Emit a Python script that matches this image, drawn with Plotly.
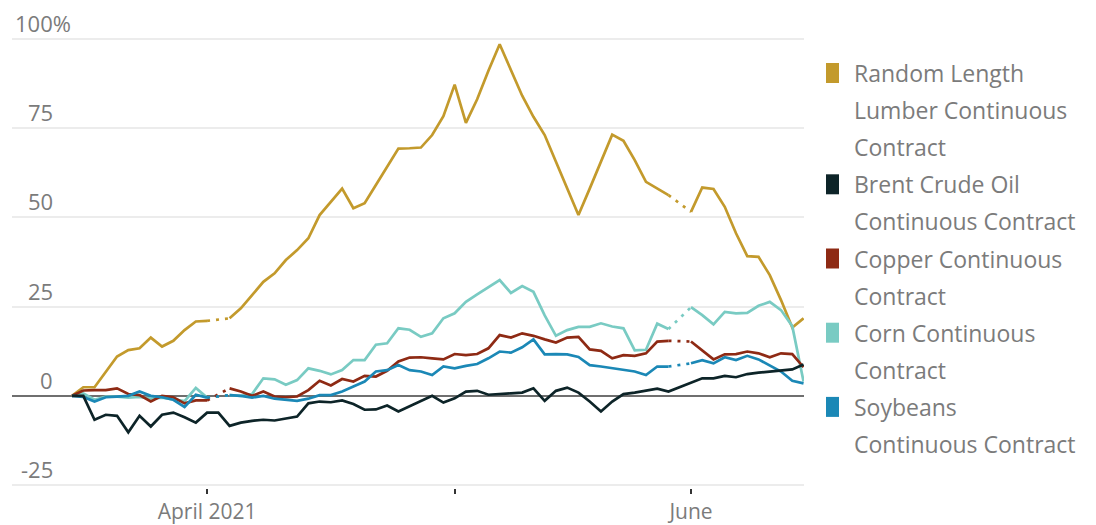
import pandas as pd
import plotly.graph_objects as go

# ---------------- data ----------------
dates = pd.bdate_range("2021-03-16", "2021-06-15")  # weekdays, 66 sessions

lumber = [0, 2.4, 2.4, 6.8, 11, 12.8, 13.3, 16.3, 13.8, 15.4, 18.4, 20.8,
          21.0, None, 21.7, 24.5, 28.2, 31.9, 34.3, 38, 40.8, 44.1, 50.6, 54.3,
          58, 52.5, 53.9, 59, 64, 69.2, 69.3, 69.5, 73, 78.3,
          87.1, 76.4, 83, 91, 98.4, 91, 84, 78.1, 73, 65.5, 58, 50.6, 58, 65.5,
          73.1, 71.4, 66, 59.9, 58, 56.2, None,
          51.5, 58.3, 57.9, 52.9, 45.5, 39.1, 38.9, 33.8, 26.8, 19.1, 21.7]

brent = [0, 0, -6.7, -5.3, -5.6, -10.2, -5.6, -8.6, -5.3, -4.7, -6, -7.5,
         -4.7, -4.7, -8.4, -7.5, -7, -6.7, -6.9, -6.3, -5.8, -2.1, -1.6, -1.8,
         -1.3, -2.3, -3.9, -3.8, -2.7, -4.4, -3, -1.6, 0, -1.9,
         -0.7, 1.2, 1.4, 0.3, 0.4, 0.7, 0.9, 2.1, -1.4, 1.4, 2.3, 0.9, -1.6, -4.4,
         -1.6, 0.5, 0.9, 1.5, 2, 1.2, 2.4,
         3.7, 4.9, 4.9, 5.6, 5.2, 6.1, 6.5, 6.8, 7.2, 7.4, 8.8]

copper = [0, 1.5, 1.6, 1.6, 2.1, 0.5, 0.2, -1.6, 0, -0.4, -2.1, -1.3,
          -1.3, None, 2.1, 1.2, 0, 1.2, -0.2, -0.4, -0.2, 1.6, 4.2, 2.9,
          4.7, 4, 5.6, 5.4, 7, 9.6, 10.7, 10.8, 10.5, 10.2,
          11.7, 11.4, 11.7, 13.3, 17, 16.3, 17.5, 16.8, 15.8, 14.9, 16.3, 16.5, 13, 12.6,
          10.5, 11.4, 11.2, 11.9, 15.2, 15.4, None,
          15.2, 12.8, 10.2, 11.6, 11.7, 12.4, 11.9, 10.8, 11.9, 11.7, 8.0]

corn = [0, 0.7, -1.1, -0.2, -0.2, -0.5, -0.3, -0.8, -0.5, -1.0, -1.5, 2.2,
        -0.5, None, 0.2, 0, 0.5, 4.9, 4.6, 3.1, 4.4, 7.7, 7.0, 6.0,
        7.2, 10, 10, 14.3, 14.7, 18.9, 18.5, 16.5, 17.5, 21.7,
        23.1, 26.3, 28.4, 30.3, 32.4, 28.8, 30.7, 29.1, 22.5, 16.8, 18.4, 19.3, 19.3, 20.3,
        19.4, 18.9, 12.7, 12.9, 20.2, 18.7, None,
        24.8, 22.6, 20, 23.5, 23.1, 23.2, 25.2, 26.3, 24, 19.5, 4]

soybeans = [0, -0.3, -1.6, -0.4, -0.2, 0, 1.2, 0, -0.4, -1.1, -3.1, 0.3,
            -0.5, None, 0.2, 0, -0.5, 0, -0.8, -1.1, -1.4, -0.8, 0.2, 0.2,
            1.2, 2.6, 4, 6.8, 7.2, 8.6, 7.2, 6.8, 5.8, 8.2,
            7.7, 8.4, 8.9, 10.5, 12.4, 12.1, 13.6, 15.8, 11.6, 11.7, 11.6, 10.9, 8.6, 8.2,
            7.7, 7.4, 6.8, 5.8, 8.2, 8.2, None,
            9.1, 10, 9.1, 10.8, 10, 11.2, 10.2, 8.6, 6.8, 4.2, 3.5]

series_names = [
    ["Random Length", "Lumber Continuous", "Contract"],
    ["Brent Crude Oil", "Continuous Contract"],
    ["Copper Continuous", "Contract"],
    ["Corn Continuous", "Contract"],
    ["Soybeans", "Continuous Contract"],
]
series_values = [lumber, brent, copper, corn, soybeans]
series_colors = ["#C39A2C", "#0D2428", "#8E2A14", "#79CBC3", "#1B88B6"]

y_ticks = [-25, 0, 25, 50, 75, 100]
x_tickvals = ["2021-04-01", "2021-05-03", "2021-06-01"]
x_ticktext = ["April 2021", "", "June"]

# ---------------- layout geometry ----------------
W, H = 1096, 525
ML, MR, MT, MB = 12, 292, 35, 37
PW, PH = W - ML - MR, H - MT - MB
FONT = "Open Sans"
TXT = "#7b7b7b"


def px2x(px):
    return (px - ML) / PW


def px2y(py):
    return (H - MB - py) / PH


fig = go.Figure()

# draw order: lumber, corn, copper, soybeans, brent (brent on top)
order = [0, 3, 2, 4, 1]
for i in order:
    vals = series_values[i]
    col = series_colors[i]
    fig.add_trace(go.Scatter(x=dates, y=vals, mode="lines",
                             line=dict(color=col, width=2.7),
                             connectgaps=False, showlegend=False,
                             hoverinfo="skip"))
    # dotted bridges over missing sessions
    for k, v in enumerate(vals):
        if v is None and 0 < k < len(vals) - 1:
            a, b = k - 1, k + 1
            if vals[a] is not None and vals[b] is not None:
                fig.add_trace(go.Scatter(
                    x=[dates[a], dates[b]], y=[vals[a], vals[b]], mode="lines",
                    line=dict(color=col, width=2.7, dash="3px,6px"),
                    showlegend=False, hoverinfo="skip"))

annotations = []
for v in y_ticks:
    txt = f"{v}%" if v == 100 else f"{v}"
    if v == 100:
        annotations.append(dict(x=px2x(13), xref="paper", xanchor="left",
                                y=v, yref="y", yanchor="bottom", yshift=-1,
                                text=txt, showarrow=False,
                                font=dict(family=FONT, size=22, color=TXT)))
    else:
        annotations.append(dict(x=px2x(55), xref="paper", xanchor="right",
                                y=v, yref="y", yanchor="bottom", yshift=-1,
                                text=txt, showarrow=False,
                                font=dict(family=FONT, size=22, color=TXT)))

# custom legend
shapes = []
line_y = 73.0
for i, lines in enumerate(series_names):
    shapes.append(dict(type="rect", xref="paper", yref="paper",
                       x0=px2x(826), x1=px2x(839),
                       y0=px2y(line_y - 10), y1=px2y(line_y + 10),
                       fillcolor=series_colors[i], line=dict(width=0)))
    for ln in lines:
        annotations.append(dict(x=px2x(852), xref="paper", xanchor="left",
                                y=px2y(line_y), yref="paper", yanchor="middle",
                                text=ln, showarrow=False,
                                font=dict(family=FONT, size=23, color=TXT)))
        line_y += 37.1

fig.update_layout(
    width=W, height=H,
    margin=dict(l=ML, r=MR, t=MT, b=MB),
    paper_bgcolor="white", plot_bgcolor="white",
    showlegend=False,
    annotations=annotations,
    shapes=shapes,
    xaxis=dict(type="date", automargin=False,
               rangebreaks=[dict(bounds=["sat", "mon"])],
               range=["2021-03-08 16:00", "2021-06-15 01:00"],
               tickmode="array", tickvals=x_tickvals, ticktext=x_ticktext,
               ticks="outside", ticklen=5, tickwidth=1.5, tickcolor="#333333",
               showgrid=False, zeroline=False, showline=False,
               tickfont=dict(family=FONT, size=21, color=TXT),
               ticklabelstandoff=0),
    yaxis=dict(range=[-25.8, 101], tickmode="array", tickvals=y_ticks,
               automargin=False,
               showticklabels=False, ticks="",
               showgrid=True, gridcolor="#ececec", gridwidth=2,
               zeroline=True, zerolinecolor="#6f6f6f", zerolinewidth=2,
               showline=False),
)

fig.write_html("out.html")
